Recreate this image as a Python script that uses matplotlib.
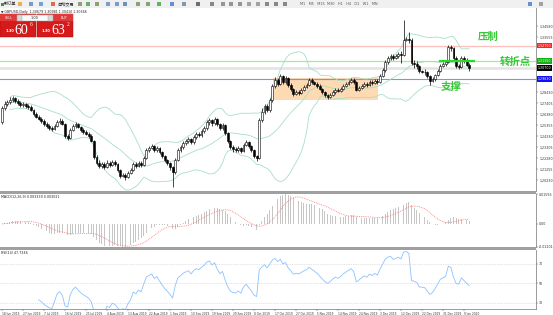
import numpy as np
import pandas as pd
import matplotlib
matplotlib.use("Agg")
import matplotlib.pyplot as plt
from matplotlib.patches import Rectangle

plt.rcParams['font.family'] = ['DejaVu Sans', 'Noto Sans CJK SC']

# ---------------- data ----------------
first_open = 1.2565
closes = [
1.2696, 1.2733, 1.2751, 1.2770, 1.2789, 1.2761, 1.2742, 1.2724, 1.2733, 1.2714,
1.2705, 1.2677, 1.2640, 1.2612, 1.2593, 1.2575, 1.2547, 1.2528, 1.2510, 1.2500,
1.2528, 1.2565, 1.2575, 1.2547, 1.2435, 1.2417, 1.2491, 1.2528, 1.2547, 1.2519,
1.2491, 1.2472, 1.2454, 1.2435, 1.2389, 1.2240, 1.2184, 1.2156, 1.2175, 1.2147,
1.2184, 1.2166, 1.2193, 1.2175, 1.2119, 1.2063, 1.2073, 1.2054, 1.2091, 1.2119,
1.2175, 1.2156, 1.2184, 1.2166, 1.2231, 1.2305, 1.2324, 1.2342, 1.2305, 1.2324,
1.2286, 1.2249, 1.2212, 1.2184, 1.2147, 1.2100, 1.2212, 1.2305, 1.2333, 1.2370,
1.2389, 1.2407, 1.2379, 1.2426, 1.2454, 1.2445, 1.2482, 1.2510, 1.2565, 1.2584,
1.2556, 1.2593, 1.2547, 1.2510, 1.2538, 1.2463, 1.2389, 1.2333, 1.2314, 1.2305,
1.2324, 1.2296, 1.2352, 1.2379, 1.2342, 1.2305, 1.2249, 1.2231, 1.2584, 1.2658,
1.2714, 1.2677, 1.2770, 1.2900, 1.2956, 1.2919, 1.2993, 1.2937, 1.2975, 1.2910,
1.2872, 1.2826, 1.2844, 1.2835, 1.2863, 1.2891, 1.2910, 1.2956, 1.2937, 1.2919,
1.2900, 1.2872, 1.2844, 1.2817, 1.2798, 1.2817, 1.2844, 1.2863, 1.2854, 1.2872,
1.2900, 1.2919, 1.2937, 1.2956, 1.2937, 1.2863, 1.2882, 1.2900, 1.2919, 1.2910,
1.2937, 1.2928, 1.2947, 1.2937, 1.2993, 1.3049, 1.3123, 1.3161, 1.3179, 1.3161,
1.3179, 1.3198, 1.3189, 1.3330, 1.3340, 1.3330, 1.3110, 1.3105, 1.3090, 1.3040,
1.3035, 1.3030, 1.2990, 1.2950, 1.2965, 1.3000, 1.3040, 1.3090, 1.3105, 1.3120,
1.3260, 1.3250, 1.3160, 1.3090, 1.3080, 1.3160, 1.3130, 1.3100, 1.3070]
highs = [
1.2714, 1.2760, 1.2770, 1.2795, 1.2810, 1.2800, 1.2775, 1.2760, 1.2750, 1.2745,
1.2735, 1.2720, 1.2690, 1.2655, 1.2630, 1.2610, 1.2590, 1.2565, 1.2545, 1.2530,
1.2545, 1.2580, 1.2600, 1.2590, 1.2560, 1.2455, 1.2505, 1.2545, 1.2570, 1.2560,
1.2530, 1.2505, 1.2490, 1.2470, 1.2450, 1.2400, 1.2255, 1.2210, 1.2195, 1.2190,
1.2210, 1.2200, 1.2215, 1.2210, 1.2185, 1.2130, 1.2095, 1.2090, 1.2110, 1.2135,
1.2190, 1.2195, 1.2205, 1.2200, 1.2250, 1.2320, 1.2345, 1.2365, 1.2355, 1.2340,
1.2335, 1.2300, 1.2260, 1.2225, 1.2195, 1.2160, 1.2230, 1.2320, 1.2350, 1.2385,
1.2410, 1.2425, 1.2420, 1.2445, 1.2470, 1.2475, 1.2500, 1.2530, 1.2580, 1.2600,
1.2595, 1.2610, 1.2600, 1.2560, 1.2555, 1.2545, 1.2475, 1.2400, 1.2350, 1.2335,
1.2340, 1.2335, 1.2370, 1.2400, 1.2390, 1.2355, 1.2315, 1.2260, 1.2600, 1.2700,
1.2735, 1.2730, 1.2790, 1.2920, 1.2980, 1.2970, 1.3012, 1.3005, 1.2995, 1.2985,
1.2925, 1.2885, 1.2860, 1.2860, 1.2880, 1.2905, 1.2930, 1.2975, 1.2970, 1.2950,
1.2935, 1.2915, 1.2885, 1.2855, 1.2830, 1.2835, 1.2860, 1.2880, 1.2880, 1.2890,
1.2915, 1.2935, 1.2955, 1.2975, 1.2970, 1.2945, 1.2900, 1.2920, 1.2935, 1.2940,
1.2955, 1.2960, 1.2965, 1.2965, 1.3010, 1.3065, 1.3140, 1.3180, 1.3200, 1.3195,
1.3200, 1.3215, 1.3230, 1.3514, 1.3360, 1.3400, 1.3345, 1.3145, 1.3130, 1.3100,
1.3050, 1.3060, 1.3040, 1.3000, 1.2985, 1.3015, 1.3055, 1.3105, 1.3125, 1.3140,
1.3285, 1.3280, 1.3265, 1.3175, 1.3105, 1.3180, 1.3175, 1.3160, 1.3115]
lows = [
1.2547, 1.2680, 1.2715, 1.2735, 1.2755, 1.2745, 1.2725, 1.2705, 1.2705, 1.2700,
1.2690, 1.2665, 1.2625, 1.2600, 1.2580, 1.2560, 1.2530, 1.2510, 1.2495, 1.2480,
1.2490, 1.2515, 1.2550, 1.2535, 1.2420, 1.2400, 1.2405, 1.2480, 1.2510, 1.2505,
1.2475, 1.2455, 1.2440, 1.2420, 1.2375, 1.2225, 1.2165, 1.2140, 1.2140, 1.2130,
1.2135, 1.2150, 1.2155, 1.2160, 1.2105, 1.2040, 1.2050, 1.2030, 1.2040, 1.2080,
1.2110, 1.2140, 1.2145, 1.2150, 1.2155, 1.2220, 1.2290, 1.2310, 1.2290, 1.2290,
1.2270, 1.2235, 1.2195, 1.2165, 1.2120, 1.1960, 1.2085, 1.2200, 1.2290, 1.2315,
1.2350, 1.2370, 1.2360, 1.2365, 1.2410, 1.2425, 1.2430, 1.2465, 1.2495, 1.2540,
1.2530, 1.2540, 1.2530, 1.2490, 1.2495, 1.2445, 1.2370, 1.2315, 1.2290, 1.2285,
1.2290, 1.2280, 1.2285, 1.2340, 1.2325, 1.2290, 1.2230, 1.2205, 1.2220, 1.2570,
1.2640, 1.2655, 1.2660, 1.2755, 1.2885, 1.2900, 1.2905, 1.2920, 1.2920, 1.2895,
1.2855, 1.2810, 1.2815, 1.2820, 1.2825, 1.2850, 1.2880, 1.2900, 1.2920, 1.2905,
1.2885, 1.2860, 1.2830, 1.2800, 1.2780, 1.2785, 1.2805, 1.2830, 1.2840, 1.2840,
1.2860, 1.2890, 1.2905, 1.2925, 1.2920, 1.2850, 1.2850, 1.2870, 1.2890, 1.2895,
1.2900, 1.2910, 1.2915, 1.2920, 1.2925, 1.2980, 1.3035, 1.3105, 1.3140, 1.3145,
1.3150, 1.3165, 1.3110, 1.3175, 1.3320, 1.3300, 1.3095, 1.3070, 1.3060, 1.3020,
1.3020, 1.3000, 1.2970, 1.2905, 1.2935, 1.2950, 1.2990, 1.3030, 1.3075, 1.3090,
1.3110, 1.3230, 1.3140, 1.3070, 1.3060, 1.3070, 1.3110, 1.3085, 1.3040]

date_labels = ["18 Jun 2019", "27 Jun 2019", "7 Jul 2019", "16 Jul 2019", "25 Jul 2019",
               "4 Aug 2019", "13 Aug 2019", "22 Aug 2019", "1 Sep 2019", "10 Sep 2019",
               "19 Sep 2019", "29 Sep 2019", "8 Oct 2019", "17 Oct 2019", "27 Oct 2019",
               "5 Nov 2019", "14 Nov 2019", "24 Nov 2019", "3 Dec 2019", "12 Dec 2019",
               "22 Dec 2019", "31 Dec 2019", "9 Jan 2020"]
date_label_bars = [0, 8, 16, 24, 32, 40, 48, 56, 64, 72, 80, 88, 96, 104, 112, 120,
                   128, 136, 144, 152, 160, 168, 176]
price_ticks = [1.34580, 1.33555, 1.32530, 1.31505, 1.30480, 1.29455, 1.28430, 1.27405,
               1.26380, 1.25355, 1.24330, 1.23305, 1.22280, 1.21255, 1.20230]

resistance = 1.3275
pivot = 1.3135
support = 1.2963
box_bars = (103.2, 143.2)
box_prices = (1.2770, 1.2975)
pivot_seg_bars = (166.5, 180.3)

title_text = "\u25bc GBPUSD,Daily  1.30679 1.30981 1.30410 1.30666"
macd_text = "MACD(12,26,9) 0.003339 0.003021"
rsi_text = "RSI(14) 47.7346"

# ---------------- indicators ----------------
n = len(closes)
idx = np.arange(n)
c = np.array(closes)
o = np.array([first_open] + closes[:-1])
h = np.maximum(np.array(highs), np.maximum(o, c))
l = np.minimum(np.array(lows), np.minimum(o, c))
cs = pd.Series(c)
bb_mid = cs.rolling(20, min_periods=4).mean()
bb_sd = cs.rolling(20, min_periods=4).std(ddof=0)
bb_up = bb_mid + 2 * bb_sd
bb_lo = bb_mid - 2 * bb_sd
macd = cs.ewm(span=12, adjust=False).mean() - cs.ewm(span=26, adjust=False).mean()
signal = macd.rolling(9, min_periods=1).mean()
d = cs.diff()
ag = d.clip(lower=0).rolling(14).mean()
al = (-d.clip(upper=0)).rolling(14).mean()
ag_w = ag.copy()
al_w = al.copy()
for k in range(15, n):
    ag_w.iloc[k] = (ag_w.iloc[k - 1] * 13 + max(d.iloc[k], 0)) / 14
    al_w.iloc[k] = (al_w.iloc[k - 1] * 13 + max(-d.iloc[k], 0)) / 14
rsi = 100 - 100 / (1 + ag_w / al_w)

# ---------------- figure ----------------
W, H = 553, 315
fig = plt.figure(figsize=(W / 100, H / 100), dpi=100)
fig.patch.set_facecolor('white')

def px_axes(x0, y0, x1, y1):
    return fig.add_axes([x0 / W, 1 - y1 / H, (x1 - x0) / W, (y1 - y0) / H])

def fig_rect(x0, y0, x1, y1, **kw):
    fig.add_artist(Rectangle((x0 / W, 1 - y1 / H), (x1 - x0) / W, (y1 - y0) / H,
                             transform=fig.transFigure, **kw))

def fig_txt(x, y, s, **kw):
    fig.text(x / W, 1 - y / H, s, **kw)

PITCH = 2.625
XL = (-2 / PITCH, (536 - 2) / PITCH)
LAB = 2.3

def style_axes(ax):
    ax.set_xlim(*XL)
    for s in ('left', 'top', 'bottom'):
        ax.spines[s].set_visible(False)
    ax.spines['right'].set_color('#8a8a8a')
    ax.spines['right'].set_linewidth(0.6)
    ax.yaxis.tick_right()
    ax.tick_params(axis='y', labelsize=LAB, length=1.5, width=0.3, pad=0.8,
                   colors='#333333')
    ax.set_xticks([])
    ax.set_facecolor('white')

# main chart
ax = px_axes(0, 8, 536, 191)
style_axes(ax)
ax.set_ylim(1.3700 - 0.00093 * 191, 1.3700 - 0.00093 * 8)
hl_levels = (resistance, pivot, closes[-1], support)
shown = [t for t in price_ticks if min(abs(t - v) for v in hl_levels) > 0.004]
ax.set_yticks(shown)
ax.set_yticklabels([f"{t:.5f}" for t in shown])

ax.add_patch(Rectangle((box_bars[0], box_prices[0]), box_bars[1] - box_bars[0],
                       box_prices[1] - box_prices[0], facecolor='#fddab2',
                       edgecolor='none', zorder=1))
ax.axhline(resistance, color='#ffc0c0', lw=1.0, zorder=1.5)
ax.axhline(pivot, color='#a6e6a6', lw=0.9, zorder=1.5)
ax.axhline(c[-1], color='#e2e2e2', lw=1.8, zorder=1.4)
ax.axhline(support, color='#8888ff', lw=0.8, zorder=1.5)

for band in (bb_up, bb_mid, bb_lo):
    ax.plot(idx, band, color='#a8dfc6', lw=0.6, zorder=2)

ax.vlines(idx, l, h, color='black', lw=0.5, zorder=3)
bottom = np.minimum(o, c)
height = np.maximum(np.abs(c - o), 0.0003)
upm = c >= o
ax.bar(idx[upm], height[upm], bottom=bottom[upm], width=0.72, color='white',
       edgecolor='black', linewidth=0.4, zorder=4)
ax.bar(idx[~upm], height[~upm], bottom=bottom[~upm], width=0.72, color='black',
       edgecolor='black', linewidth=0.4, zorder=4)

ax.plot(pivot_seg_bars, (pivot, pivot), color='#22dd22', lw=1.6, zorder=5,
        solid_capstyle='butt')

for val, col in ((resistance, '#ff2020'), (pivot, '#10b010'), (c[-1], '#000000'),
                 (support, '#1010ff')):
    ax.text(1.003, val, f"{val:.5f}", transform=ax.get_yaxis_transform(),
            fontsize=LAB, color='white', va='center', ha='left', zorder=6,
            bbox=dict(boxstyle='square,pad=0.25', fc=col, ec='none'))

green = '#36c936'
fig_txt(488, 37, "压制", fontsize=7.5, color=green, ha='center', va='center',
        family=['Noto Sans CJK SC'], weight='bold')
fig_txt(515, 62, "转折点", fontsize=7.5, color=green, ha='center', va='center',
        family=['Noto Sans CJK SC'], weight='bold')
fig_txt(451, 87, "支撑", fontsize=7.5, color=green, ha='center', va='center',
        family=['Noto Sans CJK SC'], weight='bold')

# MACD panel
axm = px_axes(0, 194, 536, 247)
style_axes(axm)
mx, mn = float(macd.max()), float(macd.min())
axm.set_ylim(mn, mx)
axm.bar(idx, macd, width=0.3, color='#c6c6c6', zorder=2)
axm.plot(idx, signal, color='#ff7373', lw=0.6, ls=(0, (1, 1.2)), zorder=3)
axm.set_yticks([mx, 0.0, mn])
axm.set_yticklabels([f"{mx:.5f}", "0.00", f"{mn:.5f}"])

# RSI panel
axr = px_axes(0, 250, 536, 309)
style_axes(axr)
axr.set_ylim(23.8, 84.0)
for lv in (70, 50, 30):
    axr.axhline(lv, color='#c8c8c8', lw=0.5, ls=(0, (1, 1.5)), zorder=1)
axr.plot(idx, rsi, color='#8cc2ff', lw=0.6, zorder=2)
axr.set_yticks([70, 50, 30])
axr.set_yticklabels(["70", "50", "30"])
axr.spines['bottom'].set_visible(True)
axr.spines['bottom'].set_color('#8a8a8a')
axr.spines['bottom'].set_linewidth(0.6)
axr.set_xticks(date_label_bars)
axr.set_xticklabels(date_labels)
axr.tick_params(axis='x', labelsize=2.1, length=1.5, width=0.3, pad=0.8,
                colors='#333333')
for lb in axr.get_xticklabels():
    lb.set_ha('left')

# separators
fig_rect(0, 191, 536, 193.5, facecolor='#a0a0a0', edgecolor='none')
fig_rect(0, 247, 536, 249.5, facecolor='#a0a0a0', edgecolor='none')

fig_txt(1, 197.5, macd_text, fontsize=LAB, color='#222222', va='center')
fig_txt(1, 253.5, rsi_text, fontsize=LAB, color='#222222', va='center')

# toolbar
fig_rect(0, 0, 553, 8.3, facecolor='#f0f0f0', edgecolor='none')
fig_rect(0, 8.0, 553, 8.4, facecolor='#c8c8c8', edgecolor='none')
fig_txt(4, 4.3, "新订单", fontsize=3, color='#222222', va='center',
        family=['Noto Sans CJK SC'])
fig_rect(1, 2.5, 3.5, 6, facecolor='#3a9a3a', edgecolor='none')
icon_x = [20, 31, 41, 53, 80, 88, 97, 108, 117, 125, 138, 148, 159, 172, 184,
          198, 212, 223, 231, 240, 249, 258, 267, 276, 285, 530, 541]
icon_c = ['#e0a020', '#4a7fc0', '#3a8fd0', '#d04020', '#6a8a4a', '#3a9a3a',
          '#6a8a4a', '#5080c0', '#5080c0', '#3a7a9a', '#6a8a4a', '#6a8a4a',
          '#30a030', '#3070d0', '#5a7aa0', '#444444', '#666666', '#777777',
          '#777777', '#777777', '#888888', '#888888', '#666666', '#666666',
          '#666666', '#3a70c0', '#888888']
for xx, cc in zip(icon_x, icon_c):
    fig_rect(xx - 2, 2.2, xx + 2, 6.2, facecolor=cc, edgecolor='none', alpha=0.75)
fig_txt(57, 4.3, "自动交易", fontsize=3, color='#222222', va='center',
        family=['Noto Sans CJK SC'])
fig_txt(300, 4.3, "M1   M5   M15  M30   H1   H4   D1   W1   MN", fontsize=2.5,
        color='#555555', va='center')

fig_txt(1, 11.5, title_text, fontsize=LAB, color='#222222', va='center')

# one-click trading panel
for x0 in (0, 37):
    fig_rect(x0, 14, x0 + 35.5, 37, facecolor='#d41a1a', edgecolor='#b00000',
             linewidth=0.3)
    fig_rect(x0, 14, x0 + 35.5, 21, facecolor='#e03a3a', edgecolor='none')
fig_rect(17, 14.8, 53, 20.8, facecolor='#fafafa', edgecolor='#999999', linewidth=0.3)
fig_rect(17, 14.8, 22, 20.8, facecolor='#d8d8d8', edgecolor='#999999', linewidth=0.3)
fig_rect(48, 14.8, 53, 20.8, facecolor='#d8d8d8', edgecolor='#999999', linewidth=0.3)
fig_txt(35, 17.9, "1.00", fontsize=2.5, color='#222222', ha='center', va='center')
fig_txt(8.5, 17.9, "SELL", fontsize=2.4, color='white', ha='center', va='center')
fig_txt(64, 17.9, "BUY", fontsize=2.4, color='white', ha='center', va='center')
fig_txt(10, 31.5, "1.30", fontsize=2.6, color='white', ha='center', va='center',
        weight='bold')
fig_txt(21.5, 30, "60", fontsize=10, color='white', ha='center', va='center',
        family=['Liberation Serif'])
fig_txt(31.5, 25, "6", fontsize=4, color='white', ha='center', va='center',
        family=['Liberation Serif'])
fig_txt(46, 31.5, "1.30", fontsize=2.6, color='white', ha='center', va='center',
        weight='bold')
fig_txt(58.5, 30, "63", fontsize=10, color='white', ha='center', va='center',
        family=['Liberation Serif'])
fig_txt(68.5, 25, "2", fontsize=4, color='white', ha='center', va='center',
        family=['Liberation Serif'])

fig.savefig("out.png", dpi=100, facecolor='white')
